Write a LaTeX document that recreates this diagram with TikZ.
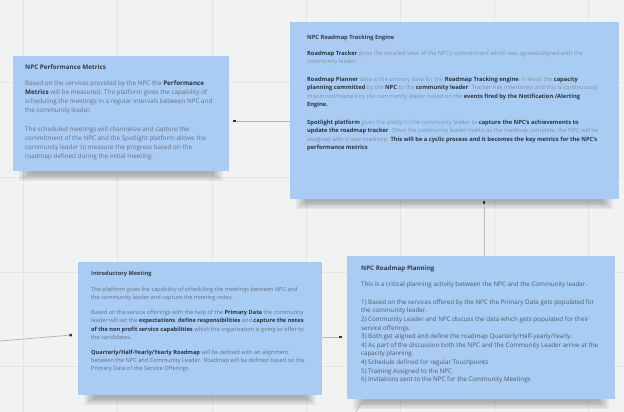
\documentclass[tikz,border=0pt]{standalone}
\usepackage{fontspec}
\setmainfont{Open Sans}
\usetikzlibrary{arrows.meta}
\definecolor{bgc}{HTML}{F2F2F2}
\definecolor{gridc}{HTML}{E4E4E4}
\definecolor{boxc}{HTML}{A8CCF4}
\definecolor{titc}{HTML}{353B45}
\definecolor{txtc}{HTML}{66717E}
\definecolor{bldc}{HTML}{2E343D}
\definecolor{conc}{HTML}{B8B8B8}
\definecolor{tipc}{HTML}{333333}
\pgfdeclarelayer{bgl}
\pgfdeclarelayer{shl}
\pgfsetlayers{bgl,shl,main}
\newcommand{\bt}[1]{\textbf{\color{bldc}#1}}
\newcommand{\ttl}[1]{\textbf{\color{titc}#1}}
\begin{document}
\begin{tikzpicture}[x=1pt,y=-1pt,
  box/.style={fill=boxc, inner sep=0pt, draw=none},
  txt/.style={anchor=north west, align=left, inner sep=0pt, text=txtc},
  conn/.style={draw=conc, line width=0.8pt, -{Square[length=2.4pt,width=2.4pt,fill=tipc,color=tipc]}},
  wire/.style={draw=conc, line width=0.8pt}]
\useasboundingbox (0,0) rectangle (624,412);
\begin{pgfonlayer}{bgl}
\fill[bgc] (0,0) rectangle (624,412);
\foreach \gx in {23.5,117.7,211.9,306.1,400.3,494.5,588.7}
  \draw[gridc, line width=0.6pt] (\gx,0) -- (\gx,412);
\foreach \gy in {82.5,177.2,271.9,366.6}
  \draw[gridc, line width=0.6pt] (0,\gy) -- (624,\gy);
\end{pgfonlayer}

% boxes
\node[box, minimum width=216pt, minimum height=115pt] (perf) at (121,113.5) {};
\node[box, minimum width=329pt, minimum height=177pt] (track) at (454.5,110.5) {};
\node[box, minimum width=244pt, minimum height=133pt] (intro) at (200,328.5) {};
\node[box, minimum width=268pt, minimum height=143pt] (plan) at (481,327.5) {};

% shadows
\begin{pgfonlayer}{shl}
\foreach \b in {perf,track,intro,plan}{
  \foreach \i in {0,...,5}{
    \fill[black,opacity=0.05] ([xshift={(6+2*\i)*1pt},yshift=2pt]\b.south west) rectangle ([xshift={(-6-2*\i)*1pt},yshift={(-10+1.4*\i)*1pt}]\b.south east);
  }
}
\end{pgfonlayer}

% texts
\node[txt, font=\fontsize{6.3}{9}\selectfont] (perft) at (25,64.2) {\ttl{NPC Performance Metrics}\\[7pt]
Based on the services provided by the NPC the \bt{Performance}\\
\bt{Metrics} will be measured. The platform gives the capability of\\
scheduling the meetings in a regular intervals between NPC and\\
the community leader.\\[10pt]
The scheduled meetings will channelize and capture the\\
commitment of the NPC and the Spotlight platform allows the\\
community leader to measure the progress based on the\\
roadmap defined during the initial meeting.};

\node[txt, font=\fontsize{5.75}{8.5}\selectfont, text=txtc!80!white] (trackt) at (307,34.6) {\ttl{NPC Roadmap Tracking Engine}\\[7.5pt]
\bt{Roadmap Tracker} gives the detailed view of the NPC's commitment which was agreed/aligned with the\\
community leader.\\[9pt]
\bt{Roadmap Planner} data is the primary data for the \bt{Roadmap Tracking engine}. It feeds the \bt{capacity}\\
\bt{planning committed} by the \bt{NPC} to the \bt{community leader}. Tracker has milestones and this is continuously\\
monitored/tracked by the community leader based on the \bt{events fired by the Notification /Alerting}\\
\bt{Engine.}\\[9pt]
\bt{Spotlight platform} gives the ability to the community leader to \bt{capture the NPC's achievements to}\\
\bt{update the roadmap tracker}. Once the community leader marks as the roadmap complete, the NPC will be\\
assigned with a new roadmap. \bt{This will be a cyclic process and it becomes the key metrics for the NPC's}\\
\bt{performance metrics}};

\node[txt, font=\fontsize{5.65}{8.3}\selectfont] (introt) at (91,270.7) {\ttl{Introductory Meeting}\\[7.7pt]
The platform gives the capability of scheduling the meetings between NPC and\\
the community leader and capture the meeting notes.\\[6.7pt]
Based on the service offerings with the help of the \bt{Primary Data} the community\\
leader will set the \bt{expectations}, \bt{define responsibilities} and \bt{capture the notes}\\
\bt{of the non profit service capabilities} which the organization is going to offer to\\
the candidates.\\[6.7pt]
\bt{Quarterly/Half-Yearly/Yearly Roadmap} will be defined with an alignment\\
between the NPC and Community Leader. Roadmap will be defined based on the\\
Primary Data of the Service Offerings.};

\node[txt, font=\fontsize{6.25}{8.6}\selectfont, text=txtc!80!black] (plant) at (361,265.3) {\ttl{NPC Roadmap Planning}\\[7.4pt]
This is a critical planning activity between the NPC and the Community leader.\\[9.4pt]
1) Based on the services offered by the NPC the Primary Data gets populated for\\
the community leader.\\
2) Community Leader and NPC discuss the data which gets populated for their\\
service offerings.\\
3) Both get aligned and define the roadmap Quarterly/Half-yearly/Yearly.\\
4) As part of the discussion both the NPC and the Community Leader arrive at the\\
capacity planning.\\
4) Schedule defined for regular Touchpoints\\
5) Training Assigned to the NPC\\
6) Invitations sent to the NPC for the Community Meetings};

% connectors
\coordinate (inL) at (0,341);
\coordinate (out1) at (355,413);
\draw[conn] ([yshift=-10.5pt]track.west) -- ([xshift=4pt,yshift=-7.5pt]perf.east);
\draw[conn] ([xshift=3pt]plan.north) -- ([xshift=29.5pt,yshift=-2pt]track.south);
\draw[conn] ([yshift=-8.5pt]intro.east) -- ([xshift=-5pt,yshift=-9.5pt]plan.west);
\draw[conn] (inL) -- ([xshift=-6pt,yshift=-6.5pt]intro.west);
\begin{pgfonlayer}{shl}
\draw[wire] ([xshift=16pt,yshift=-2pt]plan.south west) -- (out1);
\end{pgfonlayer}
\end{tikzpicture}
\end{document}
